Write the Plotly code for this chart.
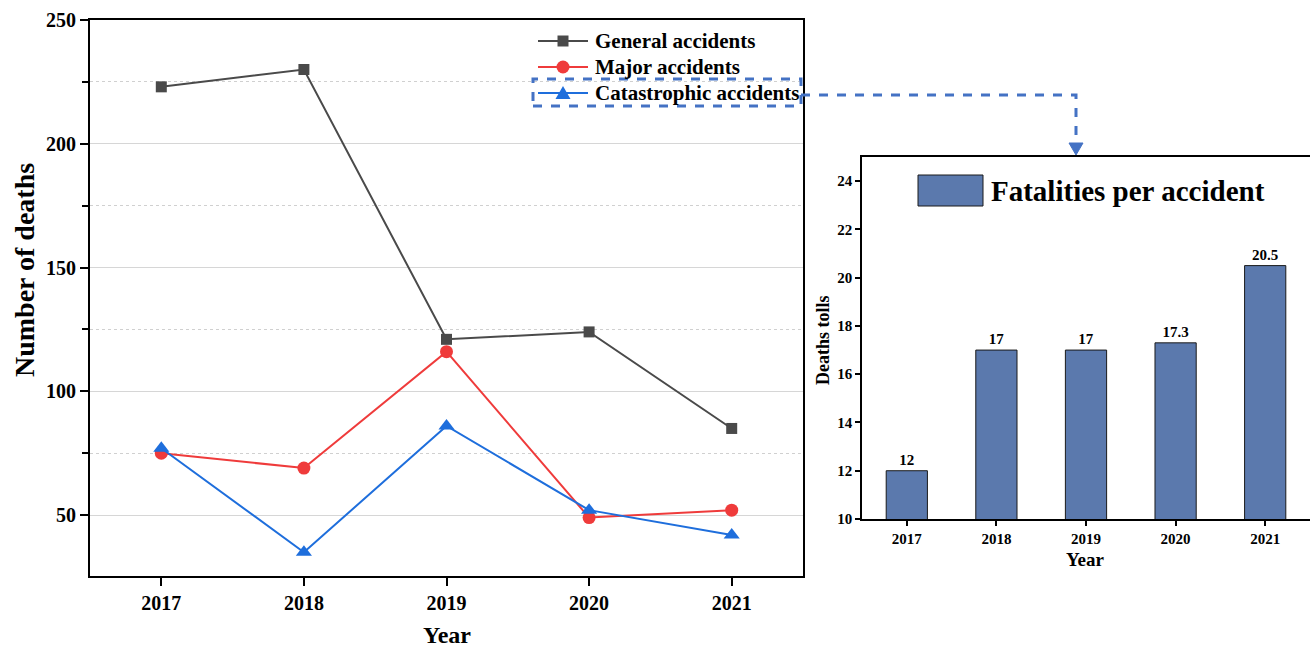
import plotly.graph_objects as go

# ---------------- data ----------------
years = [2017, 2018, 2019, 2020, 2021]
year_labels = ["2017", "2018", "2019", "2020", "2021"]
general_accidents = [223, 230, 121, 124, 85]
major_accidents = [75, 69, 116, 49, 52]
catastrophic_accidents = [77, 35, 86, 52, 42]
fatalities_per_accident = [12, 17, 17, 17.3, 20.5]
bar_labels = ["12", "17", "17", "17.3", "20.5"]
series_names = ["General accidents", "Major accidents", "Catastrophic accidents"]
main_y_ticks = [50, 100, 150, 200, 250]
main_y_minor = [75, 125, 175, 225]
inset_y_ticks = [10, 12, 14, 16, 18, 20, 22, 24]

W, H = 1310, 649
FONT = "Liberation Serif"
BLUE_DASH = "#4472C4"
BAR_COLOR = "#5B79AD"
GRAY = "#4a4a4a"
RED = "#EF3B3B"
BLUE = "#1E6EDC"


def px(x):
    return x / W


def py(y):
    return 1 - y / H


fig = go.Figure()

fig.add_trace(go.Scatter(
    x=years, y=general_accidents, name=series_names[0], mode="lines+markers",
    line=dict(color=GRAY, width=2),
    marker=dict(symbol="square", size=11, color=GRAY),
    xaxis="x", yaxis="y", cliponaxis=False, showlegend=False))
fig.add_trace(go.Scatter(
    x=years, y=major_accidents, name=series_names[1], mode="lines+markers",
    line=dict(color=RED, width=2),
    marker=dict(symbol="circle", size=13, color=RED),
    xaxis="x", yaxis="y", cliponaxis=False, showlegend=False))
fig.add_trace(go.Scatter(
    x=years, y=catastrophic_accidents, name=series_names[2], mode="lines+markers",
    line=dict(color=BLUE, width=2),
    marker=dict(symbol="triangle-up", size=14, color=BLUE),
    xaxis="x", yaxis="y", cliponaxis=False, showlegend=False))

fig.add_trace(go.Bar(
    x=year_labels, y=fatalities_per_accident, name="Fatalities per accident",
    marker=dict(color=BAR_COLOR, line=dict(color="#1a1a1a", width=1)),
    width=0.46, text=bar_labels, textposition="outside", cliponaxis=False,
    textfont=dict(family=FONT, size=15, color="black", weight="bold"),
    xaxis="x2", yaxis="y2", showlegend=False))

tick_font_main = dict(family=FONT, size=20, color="black", weight="bold")
tick_font_inset = dict(family=FONT, size=15, color="black", weight="bold")

fig.update_layout(
    width=W, height=H,
    margin=dict(l=0, r=0, t=0, b=0, autoexpand=False),
    paper_bgcolor="white", plot_bgcolor="white",
    font=dict(family=FONT, color="black"),
    showlegend=False,
    xaxis=dict(
        domain=[px(90), px(803)], range=[2016.5, 2021.5], anchor="y",
        automargin=False,
        tickvals=years, ticktext=year_labels, ticks="outside", ticklen=8,
        tickwidth=2, tickcolor="black", showline=True, linecolor="black",
        linewidth=2, mirror=True, showgrid=False, zeroline=False,
        tickfont=tick_font_main),
    yaxis=dict(
        domain=[py(576), py(20)], range=[25.4, 250], anchor="x",
        automargin=False,
        tickvals=main_y_ticks, ticks="outside", ticklen=8, tickwidth=2,
        tickcolor="black", showline=True, linecolor="black", linewidth=2,
        mirror=True, showgrid=True, gridcolor="#d6d6d6", gridwidth=1,
        zeroline=False, tickfont=tick_font_main,
        minor=dict(tickvals=main_y_minor, ticks="outside", ticklen=6,
                   tickwidth=2, tickcolor="black", showgrid=True,
                   gridcolor="#d0d0d0", griddash="dot", gridwidth=1)),
    xaxis2=dict(
        domain=[px(862), 1.0], anchor="y2", type="category", automargin=False,
        range=[-0.5, 4.5], ticks="outside", ticklen=5, tickwidth=1.5,
        tickcolor="black", showline=True, linecolor="black", linewidth=1.5,
        mirror=True, showgrid=False, zeroline=False, tickfont=tick_font_inset),
    yaxis2=dict(
        domain=[py(519), py(157)], anchor="x2", range=[10, 25], automargin=False,
        tickvals=inset_y_ticks, ticks="outside", ticklen=5, tickwidth=1.5,
        tickcolor="black", showline=True, linecolor="black", linewidth=1.5,
        mirror=True, showgrid=False, zeroline=False, tickfont=tick_font_inset),
    bargap=0.5,
)

annotations = [
    dict(text="Number of deaths", x=px(24), y=py(270), xref="paper", yref="paper",
         xanchor="center", yanchor="middle",
         textangle=-90, showarrow=False,
         font=dict(family=FONT, size=28, color="black", weight="bold")),
    dict(text="Year", x=px(447), y=py(635), xref="paper", yref="paper",
         xanchor="center", yanchor="middle",
         showarrow=False, font=dict(family=FONT, size=24, color="black", weight="bold")),
    dict(text="Deaths tolls", x=px(823), y=py(340), xref="paper", yref="paper",
         xanchor="center", yanchor="middle",
         textangle=-90, showarrow=False,
         font=dict(family=FONT, size=18, color="black", weight="bold")),
    dict(text="Year", x=px(1085), y=py(559), xref="paper", yref="paper",
         xanchor="center", yanchor="middle",
         showarrow=False, font=dict(family=FONT, size=19, color="black", weight="bold")),
    dict(text="Fatalities per accident", x=px(989), y=py(191), xref="paper", yref="paper",
         xanchor="left", yanchor="middle", showarrow=False,
         font=dict(family=FONT, size=29, color="black", weight="bold")),
]

shapes = []
# ---- manual legend for the line chart ----
legend_rows = [41, 67, 93]
legend_colors = [GRAY, RED, BLUE]
for name, row, col, kind in zip(series_names, legend_rows, legend_colors,
                                ["square", "circle", "triangle"]):
    shapes.append(dict(type="line", xref="paper", yref="paper",
                       x0=px(538), x1=px(588), y0=py(row), y1=py(row),
                       line=dict(color=col, width=2)))
    cx = 563
    if kind == "square":
        shapes.append(dict(type="rect", xref="paper", yref="paper",
                           x0=px(cx - 5.5), x1=px(cx + 5.5),
                           y0=py(row + 5.5), y1=py(row - 5.5),
                           fillcolor=col, line=dict(color=col, width=0)))
    elif kind == "circle":
        shapes.append(dict(type="circle", xref="paper", yref="paper",
                           x0=px(cx - 6.5), x1=px(cx + 6.5),
                           y0=py(row + 6.5), y1=py(row - 6.5),
                           fillcolor=col, line=dict(color=col, width=0)))
    else:
        shapes.append(dict(type="path", xref="paper", yref="paper",
                           path=(f"M {px(cx - 7.5)},{py(row + 6)} L {px(cx + 7.5)},{py(row + 6)} "
                                 f"L {px(cx)},{py(row - 7)} Z"),
                           fillcolor=col, line=dict(color=col, width=0)))
    annotations.append(dict(text=name, x=px(593), y=py(row), xref="paper", yref="paper",
                            xanchor="left", yanchor="middle", showarrow=False,
                            font=dict(family=FONT, size=21, color="black", weight="bold")))

shapes += [
    # dashed highlight box around the catastrophic legend entry
    dict(type="rect", xref="paper", yref="paper",
         x0=px(533), x1=px(801), y0=py(106), y1=py(79),
         line=dict(color=BLUE_DASH, width=3, dash="dash")),
    # connector
    dict(type="path", xref="paper", yref="paper",
         path=f"M {px(801)},{py(95)} L {px(1076)},{py(95)} L {px(1076)},{py(144)}",
         line=dict(color=BLUE_DASH, width=3, dash="dash")),
    # arrow head
    dict(type="path", xref="paper", yref="paper",
         path=f"M {px(1069)},{py(143)} L {px(1083)},{py(143)} L {px(1076)},{py(155)} Z",
         fillcolor=BLUE_DASH, line=dict(color=BLUE_DASH, width=1)),
    # inset legend swatch
    dict(type="rect", xref="paper", yref="paper",
         x0=px(918), x1=px(983), y0=py(206), y1=py(175),
         fillcolor=BAR_COLOR, line=dict(color="#1a1a1a", width=1)),
]
fig.update_layout(shapes=shapes, annotations=annotations)

fig.write_html("out.html", config={"displayModeBar": False},
               post_script="document.body.style.margin='0';document.body.style.overflow='hidden';")
